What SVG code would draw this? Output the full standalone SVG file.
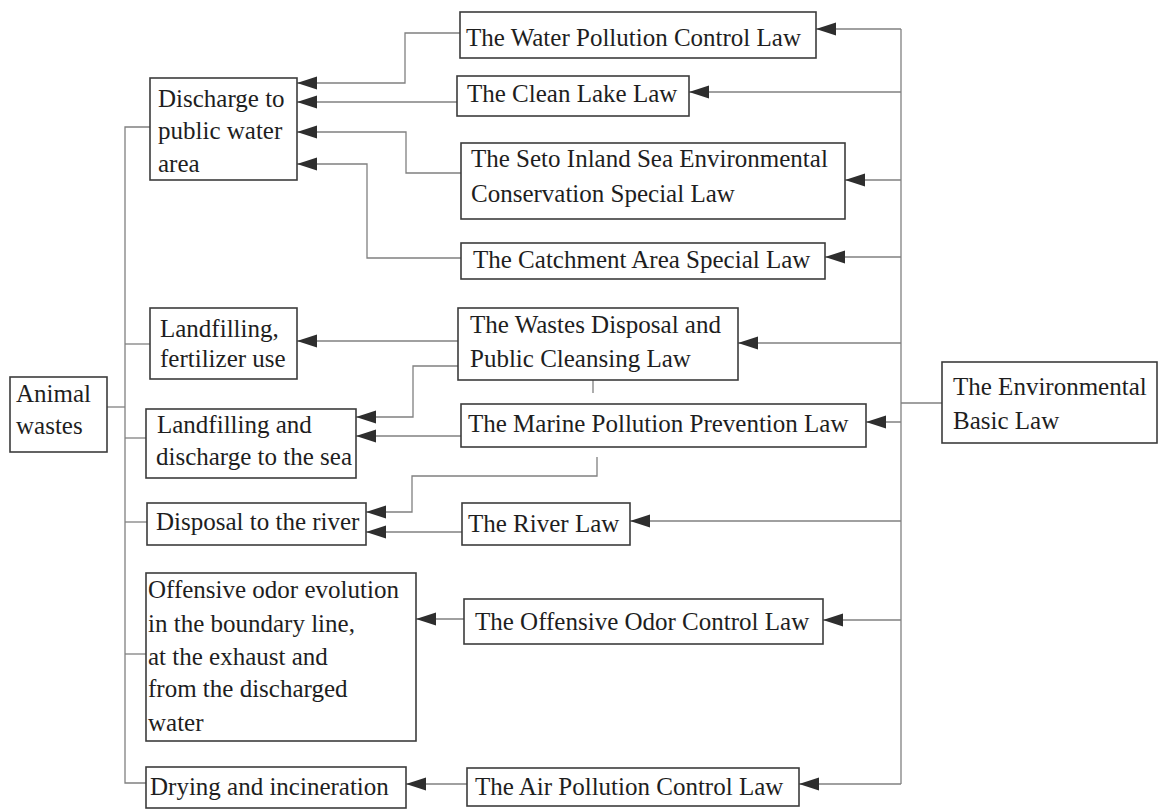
<svg xmlns="http://www.w3.org/2000/svg" width="1159" height="810" viewBox="0 0 1159 810">
<defs>
<style>
.box{fill:#fff;stroke:#3c3c3c;stroke-width:1.6}
.t{font-family:"Liberation Serif","Times New Roman",serif;font-size:25px;fill:#1e1e1e}
.c{fill:none;stroke:#808080;stroke-width:1.3}
.a{marker-end:url(#ah)}
</style>
<marker id="ah" markerUnits="userSpaceOnUse" markerWidth="21" markerHeight="14" refX="20" refY="6.5" orient="auto">
<path d="M0,0 L20,6.5 L0,13 Z" fill="#2e2e2e"/>
</marker>
</defs>
<rect width="1159" height="810" fill="#fff"/>

<g id="connectors">
<!-- left trunk -->
<path class="c" d="M107,407 H125"/>
<path class="c" d="M150,127 H125 V783 H146"/>
<path class="c" d="M125,344 H150"/>
<path class="c" d="M125,438 H146"/>
<path class="c" d="M125,522 H147"/>
<path class="c" d="M125,654 H146"/>
<!-- right trunk -->
<path class="c" d="M901,29 V784"/>
<path class="c" d="M901,403 H942"/>
<path class="c a" d="M901,29 H816"/>
<path class="c a" d="M901,92 H689"/>
<path class="c a" d="M901,180 H845"/>
<path class="c a" d="M901,257 H825"/>
<path class="c a" d="M901,343 H738"/>
<path class="c a" d="M901,422 H866"/>
<path class="c a" d="M901,521 H630"/>
<path class="c a" d="M901,620 H823"/>
<path class="c a" d="M901,784 H799"/>
<!-- laws to uses -->
<path class="c a" d="M460,33 H405 V83 H297"/>
<path class="c a" d="M457,102 H297"/>
<path class="c a" d="M461,173 H406 V132 H297"/>
<path class="c a" d="M461,258 H367 V164 H297"/>
<path class="c a" d="M458,341 H297"/>
<path class="c a" d="M458,366 H413 V417 H356"/>
<path class="c a" d="M461,436 H356"/>
<path class="c" d="M593,380 V393"/>
<path class="c a" d="M597,457 V476 H412 V512 H366"/>
<path class="c a" d="M462,532 H366"/>
<path class="c a" d="M464,619 H416"/>
<path class="c a" d="M467,784 H406"/>
</g>

<g id="animal-wastes">
<rect class="box" x="10" y="377" width="97" height="75"/>
<text class="t" x="16" y="402">Animal</text>
<text class="t" x="16" y="434">wastes</text>
</g>

<g id="discharge-public-water">
<rect class="box" x="150" y="78" width="147" height="102"/>
<text class="t" x="158" y="107">Discharge to</text>
<text class="t" x="158" y="139">public water</text>
<text class="t" x="158" y="172">area</text>
</g>

<g id="landfilling-fertilizer">
<rect class="box" x="150" y="308" width="147" height="71"/>
<text class="t" x="160" y="337">Landfilling,</text>
<text class="t" x="160" y="367">fertilizer use</text>
</g>

<g id="landfilling-sea">
<rect class="box" x="146" y="409" width="210" height="69"/>
<text class="t" x="157" y="433">Landfilling and</text>
<text class="t" x="156" y="465">discharge to the sea</text>
</g>

<g id="disposal-river">
<rect class="box" x="147" y="503" width="219" height="42"/>
<text class="t" x="156" y="530">Disposal to the river</text>
</g>

<g id="offensive-odor">
<rect class="box" x="146" y="573" width="270" height="168"/>
<text class="t" x="148" y="598">Offensive odor evolution</text>
<text class="t" x="148" y="632">in the boundary line,</text>
<text class="t" x="148" y="665">at the exhaust and</text>
<text class="t" x="148" y="697">from the discharged</text>
<text class="t" x="148" y="731">water</text>
</g>

<g id="drying-incineration">
<rect class="box" x="146" y="767" width="260" height="41"/>
<text class="t" x="150" y="795">Drying and incineration</text>
</g>

<g id="water-pollution-law">
<rect class="box" x="460" y="12" width="356" height="46"/>
<text class="t" x="466" y="46">The Water Pollution Control Law</text>
</g>

<g id="clean-lake-law">
<rect class="box" x="457" y="76" width="232" height="40"/>
<text class="t" x="467" y="102">The Clean Lake Law</text>
</g>

<g id="seto-law">
<rect class="box" x="461" y="143" width="384" height="76"/>
<text class="t" x="471" y="167">The Seto Inland Sea Environmental</text>
<text class="t" x="471" y="202">Conservation Special Law</text>
</g>

<g id="catchment-law">
<rect class="box" x="461" y="243" width="364" height="36"/>
<text class="t" x="473" y="268">The Catchment Area Special Law</text>
</g>

<g id="wastes-disposal-law">
<rect class="box" x="458" y="308" width="280" height="72"/>
<text class="t" x="470" y="333">The Wastes Disposal and</text>
<text class="t" x="470" y="367">Public Cleansing Law</text>
</g>

<g id="marine-law">
<rect class="box" x="461" y="404" width="405" height="43"/>
<text class="t" x="468" y="432">The Marine Pollution Prevention Law</text>
</g>

<g id="river-law">
<rect class="box" x="462" y="503" width="168" height="42"/>
<text class="t" x="468" y="532">The River Law</text>
</g>

<g id="offensive-odor-law">
<rect class="box" x="464" y="599" width="359" height="45"/>
<text class="t" x="475" y="630">The Offensive Odor Control Law</text>
</g>

<g id="air-pollution-law">
<rect class="box" x="467" y="768" width="332" height="38"/>
<text class="t" x="475" y="795">The Air Pollution Control Law</text>
</g>

<g id="environmental-basic-law">
<rect class="box" x="942" y="362" width="215" height="81"/>
<text class="t" x="953" y="395">The Environmental</text>
<text class="t" x="953" y="429">Basic Law</text>
</g>
</svg>
